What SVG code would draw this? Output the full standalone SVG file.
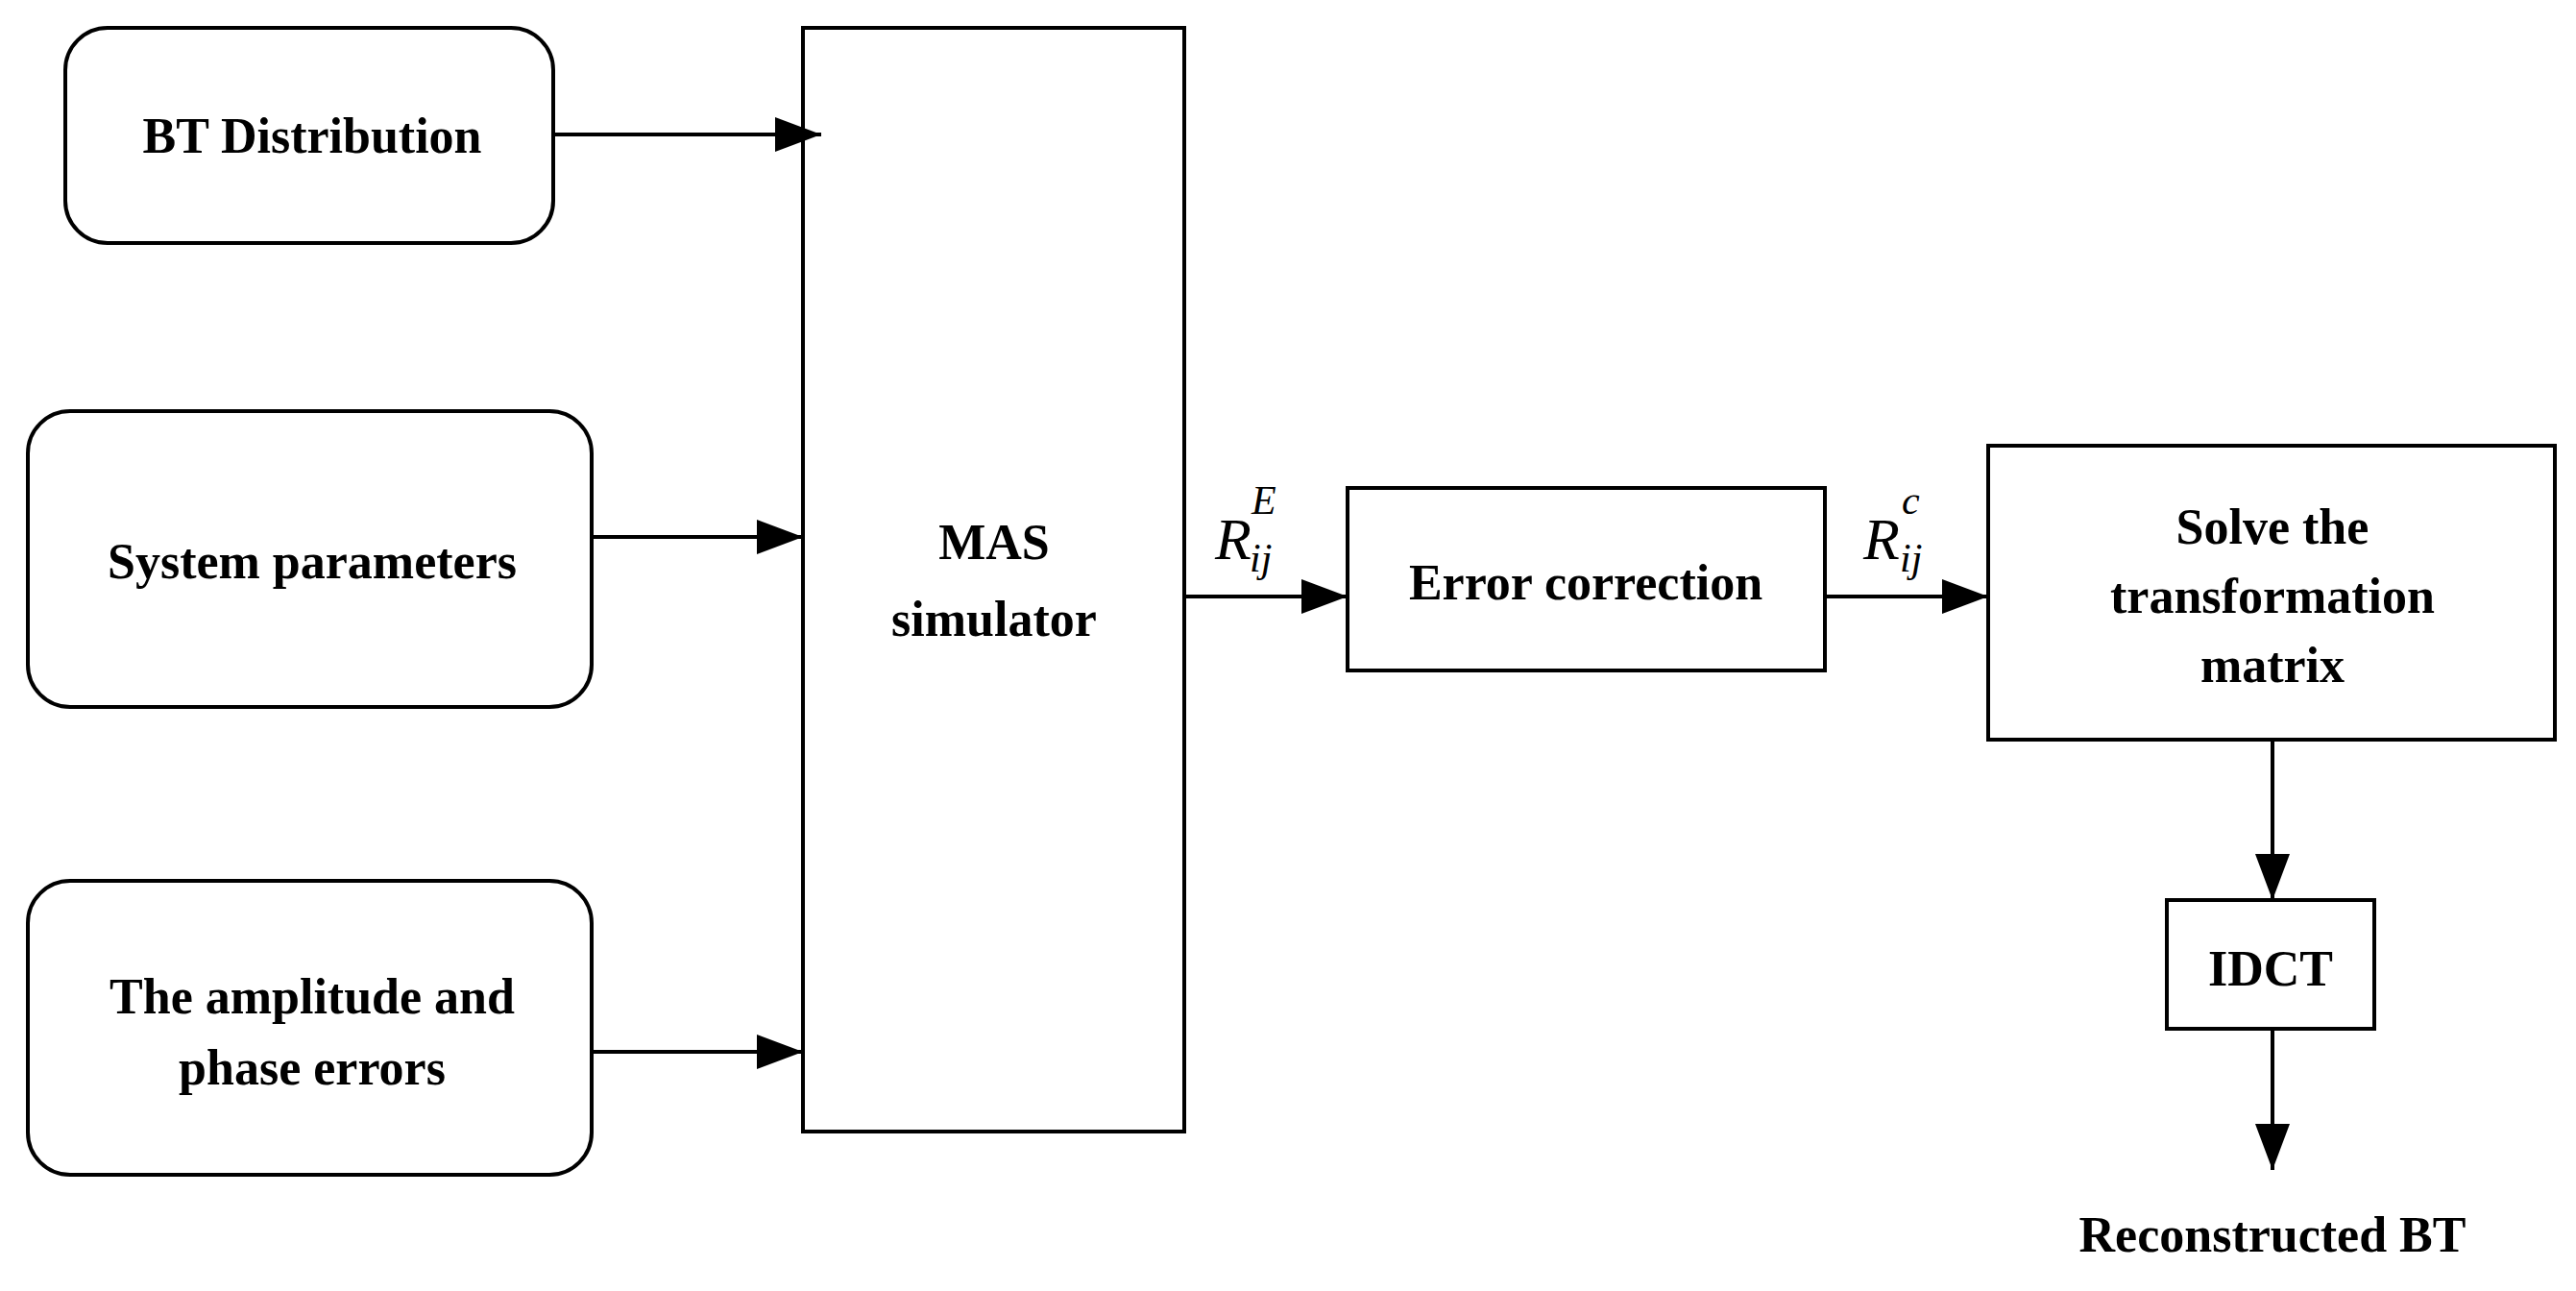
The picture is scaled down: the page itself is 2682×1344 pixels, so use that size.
<svg xmlns="http://www.w3.org/2000/svg" width="2682" height="1344" viewBox="0 0 2682 1344">
<style>
.b{fill:#fff;stroke:#000;stroke-width:4}
.t{font-family:"Liberation Serif",serif;font-weight:bold;font-size:52px;text-anchor:middle;fill:#000}
.m{font-family:"Liberation Serif",serif;font-style:italic;fill:#000}
.c{stroke:#000;stroke-width:4;fill:none;marker-end:url(#a)}
</style>
<defs><marker id="a" markerUnits="userSpaceOnUse" markerWidth="50" markerHeight="36" refX="48" refY="18" orient="auto"><path d="M0,0 L48,18 L0,36 Z" fill="#000"/></marker></defs>
<rect width="2682" height="1344" fill="#fff"/>
<g id="bt"><rect class="b" x="68" y="29" width="508" height="224" rx="44"/><text class="t" x="325" y="159">BT Distribution</text></g>
<g id="sys"><rect class="b" x="29" y="428" width="587" height="308" rx="44"/><text class="t" x="325" y="602">System parameters</text></g>
<g id="amp"><rect class="b" x="29" y="917" width="587" height="306" rx="44"/><text class="t" x="325" y="1055">The amplitude and</text><text class="t" x="325" y="1129">phase errors</text></g>
<g id="mas"><rect class="b" x="836" y="29" width="397" height="1149"/><text class="t" x="1035" y="582">MAS</text><text class="t" x="1035" y="662">simulator</text></g>
<g id="err"><rect class="b" x="1403" y="508" width="497" height="190"/><text class="t" x="1651" y="624">Error correction</text></g>
<g id="solve"><rect class="b" x="2070" y="464" width="590" height="306"/><text class="t" x="2366" y="566">Solve the</text><text class="t" x="2366" y="638">transformation</text><text class="t" x="2366" y="710">matrix</text></g>
<g id="idct"><rect class="b" x="2256" y="937" width="216" height="134"/><text class="t" x="2364" y="1026">IDCT</text></g>
<g id="out"><text class="t" x="2366" y="1303">Reconstructed BT</text></g>
<g id="connectors">
<line class="c" x1="576" y1="140" x2="855" y2="140"/>
<line class="c" x1="616" y1="559" x2="836" y2="559"/>
<line class="c" x1="616" y1="1095" x2="836" y2="1095"/>
<line class="c" x1="1233" y1="621" x2="1403" y2="621"/>
<line class="c" x1="1900" y1="621" x2="2070" y2="621"/>
<line class="c" x1="2366" y1="770" x2="2366" y2="937"/>
<line class="c" x1="2366" y1="1071" x2="2366" y2="1218"/>
</g>
<g id="labels">
<text class="m" x="1265" y="582" font-size="62">R</text><text class="m" x="1303" y="535" font-size="42">E</text><text class="m" x="1301" y="595" font-size="42">ij</text>
<text class="m" x="1940" y="582" font-size="62">R</text><text class="m" x="1980" y="535" font-size="42">c</text><text class="m" x="1978" y="595" font-size="42">ij</text>
</g>
</svg>
